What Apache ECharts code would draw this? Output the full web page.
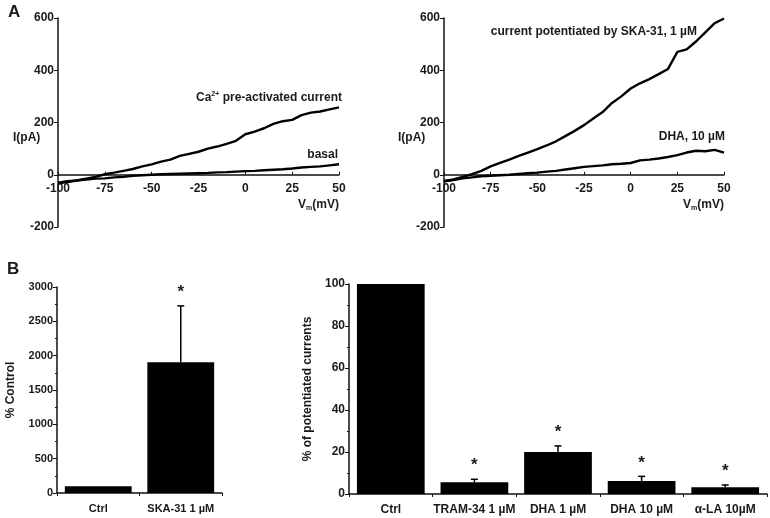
<!DOCTYPE html>
<html><head><meta charset="utf-8">
<script src="https://cdn.jsdelivr.net/npm/echarts@6/dist/echarts.min.js"></script>
<style>html,body{margin:0;padding:0;background:#fff}#c{width:770px;height:518px}</style>
</head><body><div id="c"></div>
<script>
// ---- Panel A data (voltage in mV, current in pA) ----
const voltage = [-100,-95,-90,-85,-80,-75,-70,-65,-60,-55,-50,-45,-40,-35,-30,-25,-20,-15,-10,-5,0,5,10,15,20,25,30,35,40,45,50];
const caPreActivated = [-33,-28,-22,-15,-8,2,8,15,22,32,40,50,58,72,80,88,100,108,118,130,155,165,178,195,205,210,228,238,242,250,258];
const basal = [-30,-25,-22,-18,-15,-14,-10,-8,-4,-2,0,2,3,4,5,6,7,9,10,12,14,15,17,19,21,24,28,30,32,36,40];
const skaPotentiated = [-25,-18,-8,2,15,32,45,58,72,85,98,112,128,148,168,190,215,240,275,300,330,350,366,385,405,470,480,510,545,580,598];
const dha10 = [-25,-20,-14,-10,-6,-4,-2,0,3,6,8,12,15,20,25,30,33,36,40,42,45,55,58,62,68,75,85,92,90,95,85];
const ivXMin = -100, ivXMax = 50, ivXStep = 25;
const ivYMin = -200, ivYMax = 600, ivYStep = 200;

// ---- Panel B data ----
const catsB1 = ['Ctrl','SKA-31 1 µM'];
const valsB1 = [100, 1905];
const errB1 = [0, 820];
const starB1 = [false, true];

const catsB2 = ['Ctrl','TRAM-34 1 µM','DHA 1 µM','DHA 10 µM','α-LA 10µM'];
const valsB2 = [100, 5.6, 20, 6.2, 3.2];
const errB2 = [0, 1.4, 2.9, 2.2, 1.1];
const starB2 = [false, true, true, true, true];

const FONT = '"Liberation Sans", Arial, sans-serif';
const TXT = '#1a1a1a';
const plain = v => String(v);

function pairs(xs, ys){ return xs.map((x,i)=>[x, ys[i]]); }

// grid height of the IV panels is 209 px; x axis is drawn at I = 0
const ivGridH = 209;
const zeroOffset = -ivGridH * (0 - ivYMin) / (ivYMax - ivYMin);

function ivX(grid){
  return {gridIndex:grid, type:'value', min:ivXMin, max:ivXMax, interval:ivXStep,
    offset: zeroOffset,
    axisLine:{onZero:false, lineStyle:{color:'#111', width:1.5}},
    axisTick:{show:true, length:3, inside:true, lineStyle:{color:'#111'}},
    axisLabel:{color:TXT, fontFamily:FONT, fontWeight:'bold', fontSize:12, margin:8, formatter:plain},
    splitLine:{show:false}};
}
function ivY(grid){
  return {gridIndex:grid, type:'value', min:ivYMin, max:ivYMax, interval:ivYStep,
    axisLine:{show:true, onZero:false, lineStyle:{color:'#111', width:1.5}},
    axisTick:{show:true, length:4, lineStyle:{color:'#111'}},
    axisLabel:{color:TXT, fontFamily:FONT, fontWeight:'bold', fontSize:12, margin:4, formatter:plain},
    splitLine:{show:false}};
}
function lineSeries(xi, yi, data){
  return {type:'line', xAxisIndex:xi, yAxisIndex:yi, data:data, showSymbol:false, symbol:'none',
    lineStyle:{color:'#000', width:2.4}, smooth:false, animation:false, silent:true};
}
function errSeries(xi, yi, vals, errs, stars){
  return {type:'custom', xAxisIndex:xi, yAxisIndex:yi, animation:false, silent:true,
    data: vals.map((v,i)=>[i, v, errs[i], stars[i]?1:0]),
    encode:{x:0, y:[1,2]},
    renderItem:function(params, api){
      const i = api.value(0), v = api.value(1), e = api.value(2), s = api.value(3);
      const base = api.coord([i, v]);
      const top = api.coord([i, v + e]);
      const ch = [];
      if (e > 0){
        ch.push({type:'line', shape:{x1:base[0], y1:base[1], x2:top[0], y2:top[1]}, style:{stroke:'#000', lineWidth:1.5}});
        ch.push({type:'line', shape:{x1:top[0]-3.5, y1:top[1], x2:top[0]+3.5, y2:top[1]}, style:{stroke:'#000', lineWidth:1.5}});
      }
      if (s){
        ch.push({type:'text', x:top[0], y:top[1]-5, style:{text:'*', fill:TXT, font:'bold 17px '+FONT, align:'center', verticalAlign:'bottom'}});
      }
      return {type:'group', children:ch};
    }};
}
function catX(grid, cats, fs){
  return {gridIndex:grid, type:'category', data:cats,
    axisLine:{lineStyle:{color:'#111', width:1.5}},
    axisTick:{show:true, length:3, lineStyle:{color:'#111'}},
    axisLabel:{color:TXT, fontFamily:FONT, fontWeight:'bold', fontSize:fs, margin:10, interval:0}};
}

const chart = echarts.init(document.getElementById('c'), null, {renderer:'canvas'});
chart.setOption({
  backgroundColor:'#fff',
  animation:false,
  grid:[
    {left:58, right:431, top:18, height:ivGridH},
    {left:444, right:46, top:18, height:ivGridH},
    {left:57, width:165, top:287, bottom:25},
    {left:349, right:3, top:284, bottom:24}
  ],
  xAxis:[ivX(0), ivX(1), catX(2, catsB1, 11), catX(3, catsB2, 12)],
  yAxis:[ivY(0), ivY(1),
    {gridIndex:2, type:'value', min:0, max:3000, interval:500,
      name:'% Control', nameLocation:'middle', nameGap:40, nameRotate:90,
      nameTextStyle:{color:TXT, fontFamily:FONT, fontWeight:'bold', fontSize:12},
      axisLine:{show:true, lineStyle:{color:'#111', width:1.5}},
      axisTick:{show:true, length:4, lineStyle:{color:'#111'}},
      minorTick:{show:true, splitNumber:2, length:2, lineStyle:{color:'#111'}},
      axisLabel:{color:TXT, fontFamily:FONT, fontWeight:'bold', fontSize:11, margin:4, formatter:plain},
      splitLine:{show:false}},
    {gridIndex:3, type:'value', min:0, max:100, interval:20,
      name:'% of potentiated currents', nameLocation:'middle', nameGap:28, nameRotate:90,
      nameTextStyle:{color:TXT, fontFamily:FONT, fontWeight:'bold', fontSize:12},
      axisLine:{show:true, lineStyle:{color:'#111', width:1.5}},
      axisTick:{show:true, length:4, lineStyle:{color:'#111'}},
      minorTick:{show:true, splitNumber:2, length:2, lineStyle:{color:'#111'}},
      axisLabel:{color:TXT, fontFamily:FONT, fontWeight:'bold', fontSize:12, margin:4, formatter:plain},
      splitLine:{show:false}}
  ],
  series:[
    lineSeries(0,0,pairs(voltage, caPreActivated)),
    lineSeries(0,0,pairs(voltage, basal)),
    lineSeries(1,1,pairs(voltage, skaPotentiated)),
    lineSeries(1,1,pairs(voltage, dha10)),
    {type:'bar', xAxisIndex:2, yAxisIndex:2, data:valsB1, barWidth:'81%', itemStyle:{color:'#000'}, silent:true},
    errSeries(2,2,valsB1,errB1,starB1),
    {type:'bar', xAxisIndex:3, yAxisIndex:3, data:valsB2, barWidth:'81%', itemStyle:{color:'#000'}, silent:true},
    errSeries(3,3,valsB2,errB2,starB2)
  ],
  graphic:[
    {type:'text', left:8, top:4, style:{text:'A', fill:TXT, font:'bold 17px '+FONT}},
    {type:'text', left:7, top:261, style:{text:'B', fill:TXT, font:'bold 17px '+FONT}},
    {type:'text', x:13, y:138, style:{text:'I(pA)', fill:TXT, font:'bold 12px '+FONT, verticalAlign:'middle'}},
    {type:'text', x:398, y:138, style:{text:'I(pA)', fill:TXT, font:'bold 12px '+FONT, verticalAlign:'middle'}},
    {type:'text', x:339, y:205, style:{text:'{a|V}{s|m}{a|(mV)}', align:'right', verticalAlign:'middle',
      rich:{a:{fill:TXT, font:'bold 12px '+FONT, verticalAlign:'middle'}, s:{fill:TXT, font:'bold 7px '+FONT, verticalAlign:'bottom', lineHeight:14}}}},
    {type:'text', x:724, y:205, style:{text:'{a|V}{s|m}{a|(mV)}', align:'right', verticalAlign:'middle',
      rich:{a:{fill:TXT, font:'bold 12px '+FONT, verticalAlign:'middle'}, s:{fill:TXT, font:'bold 7px '+FONT, verticalAlign:'bottom', lineHeight:14}}}},
    {type:'text', x:342, y:98, style:{text:'{a|Ca}{s|2+}{a| pre-activated current}', align:'right', verticalAlign:'middle',
      rich:{a:{fill:TXT, font:'bold 12px '+FONT, verticalAlign:'middle'}, s:{fill:TXT, font:'bold 7px '+FONT, verticalAlign:'top', lineHeight:14}}}},
    {type:'text', x:338, y:155, style:{text:'basal', fill:TXT, font:'bold 12px '+FONT, align:'right', verticalAlign:'middle'}},
    {type:'text', x:697, y:32, style:{text:'current potentiated by SKA-31, 1 µM', fill:TXT, font:'bold 12px '+FONT, align:'right', verticalAlign:'middle'}},
    {type:'text', x:725, y:137, style:{text:'DHA, 10 µM', fill:TXT, font:'bold 12px '+FONT, align:'right', verticalAlign:'middle'}}
  ]
});
</script></body></html>
